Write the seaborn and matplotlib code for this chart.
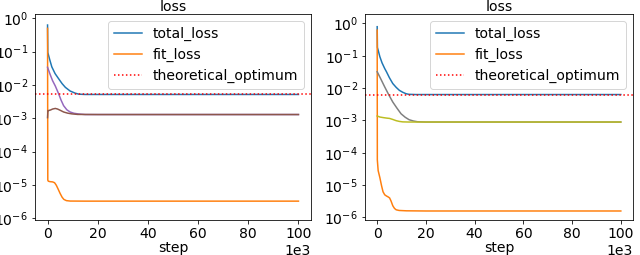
import numpy as np
import pandas as pd
import matplotlib
matplotlib.use("Agg")
import matplotlib.pyplot as plt
import matplotlib.ticker as mticker
import seaborn as sns

# ---------------- data ----------------
# left panel
L_total_steps = [0, 100, 800, 1700, 3000, 4400, 5800, 7100, 9000, 11000, 12500, 15000, 20000, 40000, 60000, 80000, 100000]
L_total_vals  = [0.63, 0.095, 0.06, 0.035, 0.022, 0.0155, 0.011, 0.0085, 0.0066, 0.0057, 0.0053, 0.0052, 0.0052, 0.0052, 0.0052, 0.0052, 0.0052]

L_fit_steps = [0, 100, 300, 1000, 2000, 2800, 3500, 4200, 5000, 5800, 6500, 7500, 9000, 15000, 20000, 40000, 60000, 80000, 100000]
L_fit_vals  = [0.5, 1.4e-5, 1.3e-5, 1.26e-5, 1.24e-5, 1.17e-5, 9.8e-6, 7.6e-6, 5.6e-6, 4.3e-6, 3.7e-6, 3.4e-6, 3.3e-6, 3.28e-6, 3.28e-6, 3.28e-6, 3.28e-6, 3.28e-6, 3.28e-6]

L_purple_steps = [0, 1000, 2000, 3100, 4400, 5400, 6400, 7700, 9000, 10500, 12400, 15000, 20000, 40000, 60000, 80000, 100000]
L_purple_vals  = [0.034, 0.021, 0.0135, 0.0093, 0.0055, 0.0035, 0.0024, 0.0018, 0.00155, 0.00142, 0.00135, 0.0013, 0.0013, 0.0013, 0.0013, 0.0013, 0.0013]

L_brown_steps = [0, 150, 500, 1200, 2000, 3100, 4000, 5000, 6400, 8000, 9700, 12000, 20000, 40000, 60000, 80000, 100000]
L_brown_vals  = [0.00105, 0.0017, 0.00172, 0.00178, 0.0019, 0.00198, 0.0019, 0.00175, 0.00155, 0.00143, 0.00136, 0.00131, 0.0013, 0.0013, 0.0013, 0.0013, 0.0013]

L_optimum = 0.0053

# right panel
R_total_steps = [0, 100, 1100, 2000, 3100, 3800, 5000, 6400, 7800, 9100, 10500, 11800, 13000, 16000, 20000, 40000, 60000, 80000, 100000]
R_total_vals  = [0.79, 0.18, 0.093, 0.06, 0.04, 0.032, 0.021, 0.0138, 0.0105, 0.0085, 0.0074, 0.0067, 0.0064, 0.0063, 0.0063, 0.0063, 0.0063, 0.0063, 0.0063]

R_fit_steps = [0, 60, 400, 1100, 1800, 2400, 3100, 3800, 4500, 5100, 5700, 6400, 7100, 7800, 9000, 12000, 20000, 40000, 60000, 80000, 100000]
R_fit_vals  = [0.62, 6e-5, 2.8e-5, 1.7e-5, 9.5e-6, 6.2e-6, 5.0e-6, 4.6e-6, 4.3e-6, 4.0e-6, 3.2e-6, 2.3e-6, 1.9e-6, 1.72e-6, 1.64e-6, 1.6e-6, 1.58e-6, 1.58e-6, 1.58e-6, 1.58e-6, 1.58e-6]

R_grey_steps = [0, 1500, 3100, 4700, 6400, 8100, 9800, 11500, 13100, 14800, 16500, 20000, 40000, 60000, 80000, 100000]
R_grey_vals  = [0.032, 0.019, 0.0108, 0.0063, 0.0037, 0.0024, 0.0016, 0.00125, 0.00105, 0.00096, 0.00091, 0.00089, 0.00089, 0.00089, 0.00089, 0.00089]

R_olive_steps = [0, 1100, 2500, 3800, 5100, 6400, 7800, 9100, 10500, 13000, 16000, 20000, 40000, 60000, 80000, 100000]
R_olive_vals  = [0.00137, 0.00127, 0.00122, 0.00118, 0.00115, 0.00107, 0.00098, 0.00093, 0.0009, 0.00089, 0.00089, 0.00089, 0.00089, 0.00089, 0.00089, 0.00089]

R_optimum = 0.0063

x_ticks = [0, 20000, 40000, 60000, 80000, 100000]

# ---------------- plot ----------------
FS = 14
DPI = 72
plt.rcParams["font.size"] = FS
fig = plt.figure(figsize=(640 / DPI, 255 / DPI), dpi=DPI)
axL = fig.add_axes([35 / 640, 35 / 255, 276 / 640, 206 / 255])
axR = fig.add_axes([365 / 640, 35 / 255, 268 / 640, 206 / 255])


def panel(ax, total, fit, extra, optimum, ylim):
    sns.lineplot(x=total[0], y=total[1], ax=ax, color="#1f77b4", label="total_loss", lw=1.5)
    sns.lineplot(x=fit[0], y=fit[1], ax=ax, color="#ff7f0e", label="fit_loss", lw=1.5)
    for (s, v, c) in extra:
        sns.lineplot(x=s, y=v, ax=ax, color=c, label="_nolegend_", lw=1.5)
    ax.axhline(optimum, color="red", ls=":", lw=1.5, label="theoretical_optimum")
    ax.set_yscale("log")
    ax.set_ylim(*ylim)
    ax.set_xlim(-5000, 105000)
    ax.yaxis.set_major_locator(mticker.LogLocator(base=10, numticks=20))
    ax.yaxis.set_minor_locator(mticker.NullLocator())
    ax.set_xticks(x_ticks)
    ax.set_title("loss", fontsize=FS, pad=3)
    ax.set_xlabel("step", fontsize=FS, labelpad=0)
    ax.set_ylabel("")
    ax.ticklabel_format(axis="x", style="sci", scilimits=(3, 3))
    ax.tick_params(labelsize=FS)
    ax.legend(loc="upper right", fontsize=FS, handlelength=2.0)


panel(axL, (L_total_steps, L_total_vals), (L_fit_steps, L_fit_vals),
      [(L_purple_steps, L_purple_vals, "#9467bd"), (L_brown_steps, L_brown_vals, "#8c564b")],
      L_optimum, (10 ** -6.05, 10 ** 0.13))
panel(axR, (R_total_steps, R_total_vals), (R_fit_steps, R_fit_vals),
      [(R_grey_steps, R_grey_vals, "#7f7f7f"), (R_olive_steps, R_olive_vals, "#bcbd22")],
      R_optimum, (10 ** -6.08, 10 ** 0.29))

fig.savefig("out.png", dpi=DPI)
